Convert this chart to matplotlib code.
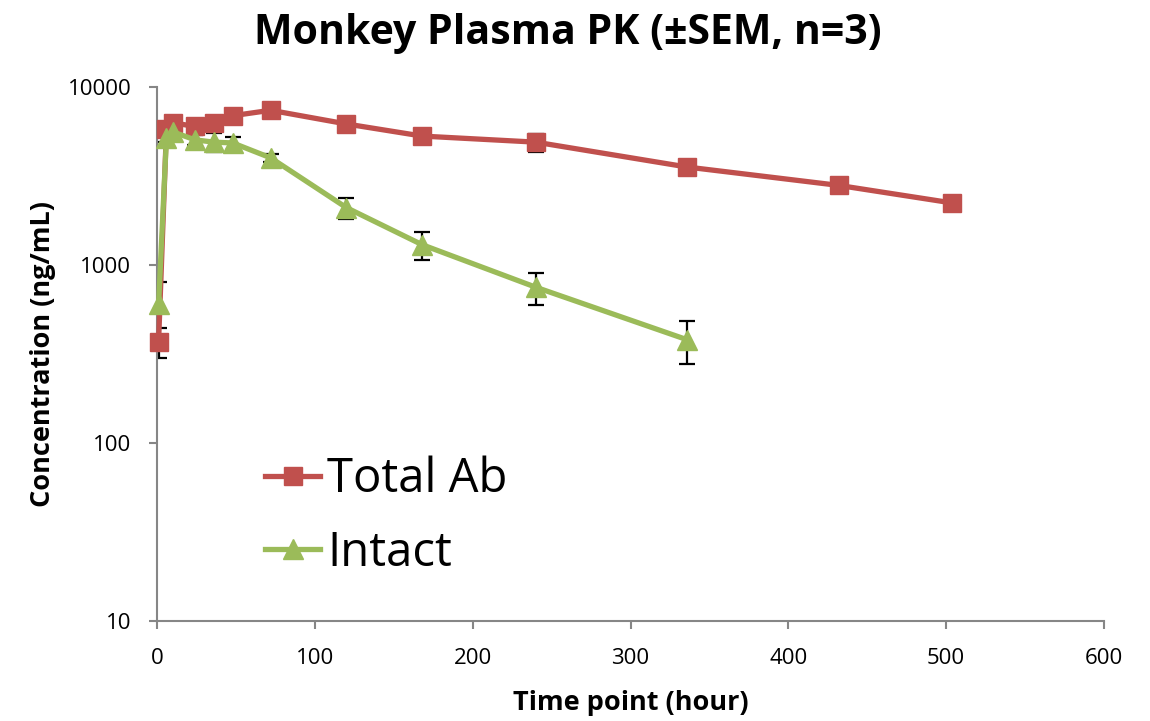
import matplotlib
matplotlib.use("Agg")
import matplotlib.pyplot as plt

plt.rcParams['font.family'] = ['Open Sans', 'DejaVu Sans']

# Sampling times (hours) and mean concentrations (ng/mL) with SEM
time_total = [1, 6, 10, 24, 36, 48, 72, 120, 168, 240, 336, 432, 504]
conc_total = [370, 5800, 6300, 6000, 6300, 6900, 7400, 6200, 5300, 4900, 3550, 2800, 2230]
sem_total = [70, 400, 300, 300, 300, 300, 300, 300, 300, 560, 200, 150, 120]

time_intact = [1, 6, 10, 24, 36, 48, 72, 120, 168, 240, 336]
conc_intact = [600, 5200, 5600, 5050, 4900, 4850, 4000, 2100, 1300, 750, 380]
sem_intact = [200, 300, 300, 300, 600, 400, 200, 280, 230, 155, 103]

title = "Monkey Plasma PK (\u00b1SEM, n=3)"
xlabel = "Time point (hour)"
ylabel = "Concentration (ng/mL)"
x_ticks = [0, 100, 200, 300, 400, 500, 600]
y_ticks = [10, 100, 1000, 10000]

red = "#C0504D"
green = "#9BBB59"
axis_gray = "#868686"

fig = plt.figure(figsize=(11.5, 7.21), dpi=100)
ax = fig.add_axes([157 / 1150, 1 - 621 / 721, (1104 - 157) / 1150, (621 - 87) / 721])

# SEM bars sit behind the series markers
ax.errorbar(time_total, conc_total, yerr=sem_total, fmt='none', ecolor='black',
            elinewidth=1.6, capsize=6, capthick=1.6, zorder=2)
ax.errorbar(time_intact, conc_intact, yerr=sem_intact, fmt='none', ecolor='black',
            elinewidth=1.6, capsize=6, capthick=1.6, zorder=2)

ax.plot(time_total, conc_total, color=red, lw=3.8, marker='s', ms=13.5,
        mec=red, mfc=red, label="Total Ab", zorder=3, clip_on=False)
ax.plot(time_intact, conc_intact, color=green, lw=3.8, marker='^', ms=15,
        mec=green, mfc=green, label="Intact", zorder=4, clip_on=False)

ax.set_yscale('log')
ax.set_ylim(10, 10000)
ax.set_xlim(0, 600)
ax.set_xticks(x_ticks)
ax.set_xticklabels([str(v) for v in x_ticks])
ax.set_yticks(y_ticks)
ax.set_yticklabels([str(v) for v in y_ticks])
ax.yaxis.set_minor_locator(matplotlib.ticker.NullLocator())

for side in ('top', 'right'):
    ax.spines[side].set_visible(False)
for side in ('left', 'bottom'):
    ax.spines[side].set_color(axis_gray)
    ax.spines[side].set_linewidth(1.5)

ax.tick_params(axis='both', which='major', direction='out', length=6, width=1.5,
               color=axis_gray, labelsize=16, labelcolor='black')
ax.tick_params(axis='y', pad=12.5)
ax.tick_params(axis='x', pad=13.5)

fig.text(0.494, 1 - 44 / 721, title, fontsize=29.5, fontweight='bold',
         ha='center', va='baseline')
ax.set_xlabel(xlabel, fontsize=19.5, fontweight='bold', labelpad=15)
ax.set_ylabel(ylabel, fontsize=19.5, fontweight='bold', labelpad=8)

leg = ax.legend(loc='center left', bbox_to_anchor=(0.114, 0.196), frameon=False,
                fontsize=34, handlelength=1.17, handletextpad=0.15, labelspacing=0.55,
                borderaxespad=0, borderpad=0)

fig.savefig("out.png", dpi=100)
